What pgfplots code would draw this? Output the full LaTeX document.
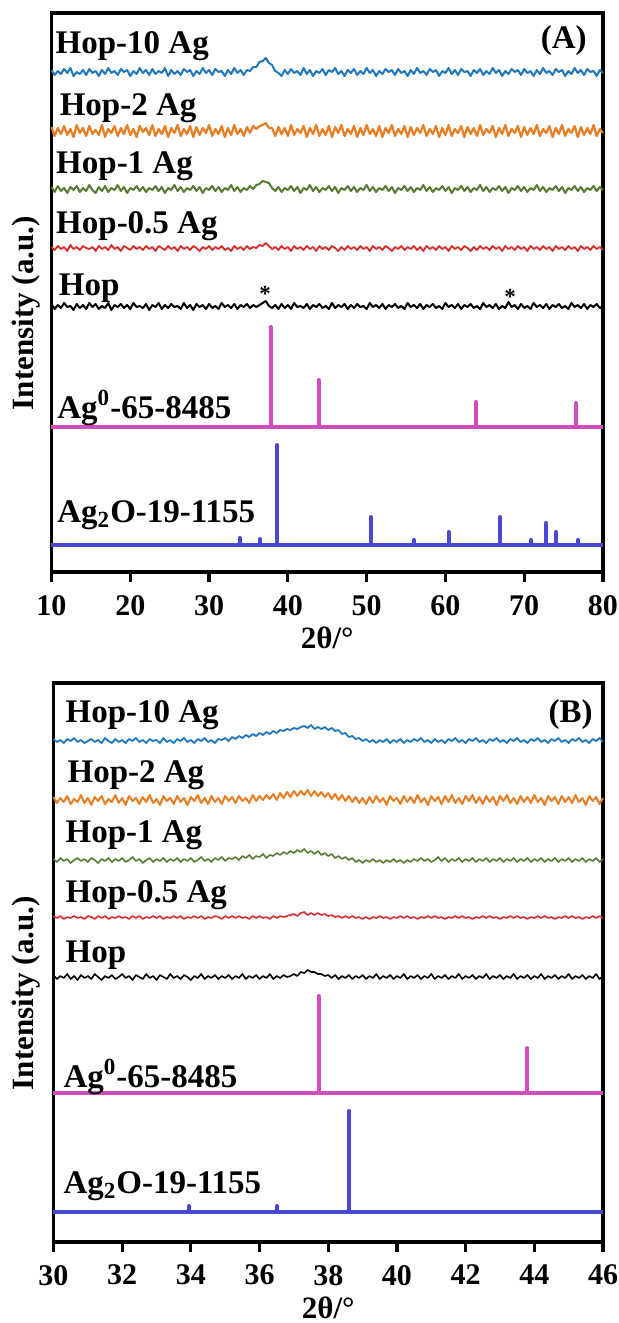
\documentclass[border=0pt]{standalone}
\usepackage{fontspec}
\setmainfont{Liberation Serif}
\usepackage{pgfplots}
\usepackage{pgfplotstable}
\pgfplotsset{compat=1.18}
\definecolor{cB}{HTML}{1F77C0}
\definecolor{cO}{HTML}{E87D23}
\definecolor{cG}{HTML}{567A32}
\definecolor{cR}{HTML}{DC2B2B}
\definecolor{cM}{HTML}{D24CBE}
\definecolor{cV}{HTML}{4848D0}
\newcommand{\lab}{\fontsize{16.5}{19}\selectfont\bfseries}
\newcommand{\astfont}{\fontsize{11.5}{12}\selectfont\bfseries}

\pgfplotstableread{
x h10 h2 h1 h05 hop
10.0 502 445 385 325 268
10.4 497 436 380 322 263
10.8 501 444 386 326 267
11.2 498 438 381 323 264
11.6 503 446 384 325 269
12.0 499 437 379 321 265
12.4 504 443 385 327 266
12.8 496 435 382 323 262
13.2 500 447 386 325 268
13.6 498 439 380 322 264
14.0 502 444 384 326 267
14.4 497 436 381 324 263
14.8 503 446 387 323 269
15.2 499 438 382 325 265
15.6 501 442 379 321 268
16.0 496 437 385 326 263
16.4 502 447 381 323 266
16.8 498 435 386 325 264
17.2 504 443 380 322 269
17.6 499 439 384 327 262
18.0 501 446 382 323 267
18.4 497 436 387 325 265
18.8 503 444 381 321 268
19.2 500 438 385 326 264
19.6 502 447 379 324 267
20.0 496 437 384 322 263
20.4 501 443 382 326 269
20.8 498 435 386 323 265
21.2 504 446 381 325 266
21.6 499 440 385 322 264
22.0 502 444 380 326 268
22.4 497 437 384 323 262
22.8 503 447 382 325 267
23.2 498 436 386 321 265
23.6 501 443 381 326 269
24.0 499 438 385 324 263
24.4 504 446 379 322 267
24.8 496 435 384 326 264
25.2 502 444 382 323 268
25.6 498 439 387 325 265
26.0 501 447 381 321 266
26.4 497 436 385 326 263
26.8 503 443 380 323 269
27.2 500 438 384 325 264
27.6 502 446 382 322 267
28.0 496 435 386 326 262
28.4 501 445 381 324 268
28.8 498 437 385 321 265
29.2 504 444 379 325 267
29.6 499 439 384 323 263
30.0 502 447 382 326 268
30.4 497 436 386 322 264
30.8 503 443 381 325 266
31.2 500 438 385 323 263
31.6 501 446 380 326 269
32.0 496 435 384 322 265
32.4 502 444 382 324 267
32.8 498 437 387 321 264
33.2 504 447 381 326 268
33.6 499 438 385 323 263
34.0 502 443 380 325 267
34.4 497 436 384 322 265
34.8 502 445 382 326 268
35.2 501 439 386 323 264
35.6 505 446 383 325 267
36.0 505 443 387 324 265
36.4 510 446 388 327 267
36.8 511 447 391 326 269
37.2 514 449 390 329 271
37.6 509 444 389 326 266
38.0 507 444 384 323 264
38.4 501 436 381 325 267
38.8 499 445 385 322 263
39.2 496 438 380 326 268
39.6 502 444 384 323 264
40.0 498 436 382 325 267
40.4 503 447 386 321 263
40.8 499 437 381 326 269
41.2 501 443 385 323 265
41.6 497 439 379 325 266
42.0 504 446 384 322 264
42.4 498 435 382 326 268
42.8 502 444 387 323 263
43.2 496 438 381 325 267
43.6 501 447 385 321 265
44.0 499 436 380 326 268
44.4 503 443 384 323 264
44.8 497 437 382 325 266
45.2 502 446 386 322 263
45.6 500 435 381 326 269
46.0 504 445 385 324 264
46.4 498 439 379 321 267
46.8 501 447 384 325 265
47.2 496 436 382 322 268
47.6 502 443 386 326 263
48.0 499 438 381 323 267
48.4 503 446 385 325 264
48.8 497 435 380 322 268
49.2 501 444 384 326 265
49.6 498 437 382 323 266
50.0 504 447 387 325 263
50.4 499 438 381 321 269
50.8 502 443 385 326 265
51.2 496 436 380 323 267
51.6 501 446 384 325 264
52.0 498 435 382 322 268
52.4 503 444 386 326 263
52.8 500 439 381 324 267
53.2 502 447 385 321 265
53.6 497 436 379 325 268
54.0 503 443 384 323 264
54.4 499 438 382 326 266
54.8 501 446 386 322 263
55.2 496 435 381 325 269
55.6 502 445 385 323 265
56.0 498 437 380 326 267
56.4 504 444 384 322 264
56.8 499 439 382 325 268
57.2 501 447 387 321 263
57.6 497 436 381 326 267
58.0 503 443 385 323 265
58.4 500 438 380 325 268
58.8 502 446 384 322 264
59.2 496 435 382 326 266
59.6 501 444 386 323 263
60.0 499 437 381 325 269
60.4 504 447 385 321 265
60.8 498 436 379 326 267
61.2 502 443 384 323 264
61.6 497 439 382 325 268
62.0 503 446 386 322 263
62.4 500 435 381 326 267
62.8 501 445 385 324 265
63.2 496 438 380 321 268
63.6 502 444 384 325 264
64.0 499 436 382 322 266
64.4 503 447 387 326 263
64.8 497 437 381 323 269
65.2 501 443 385 325 265
65.6 498 439 380 322 267
66.0 504 446 384 326 264
66.4 499 435 382 323 268
66.8 502 444 386 325 263
67.2 496 438 381 321 266
67.6 501 447 385 326 264
68.0 498 436 379 323 270
68.4 503 443 384 325 265
68.8 500 439 382 322 267
69.2 502 446 386 326 263
69.6 497 435 381 323 268
70.0 503 445 385 325 264
70.4 499 437 380 321 266
70.8 501 444 384 326 263
71.2 496 438 382 323 269
71.6 502 447 387 325 265
72.0 498 436 381 322 267
72.4 504 443 385 326 264
72.8 499 439 380 323 268
73.2 501 446 384 325 263
73.6 497 435 382 321 267
74.0 503 444 386 326 265
74.4 500 438 381 323 268
74.8 502 447 385 325 264
75.2 496 436 379 322 266
75.6 501 443 384 326 263
76.0 498 439 382 323 269
76.4 504 446 386 325 265
76.8 499 435 381 321 267
77.2 502 445 385 326 264
77.6 497 437 380 323 268
78.0 503 444 384 325 263
78.4 500 438 382 322 267
78.8 501 447 386 326 265
79.2 496 436 381 323 268
79.6 502 443 385 325 264
80.0 499 439 382 322 266
}\dataA

\pgfplotstableread{
x h10 h2 h1 h05 hop
30.0 503 445 383 326 267
30.1 500 439 380 324 263
30.2 502 444 384 326 266
30.3 499 440 381 323 264
30.4 503 446 383 325 268
30.5 501 438 379 324 263
30.6 504 443 382 326 266
30.7 500 440 384 324 262
30.8 502 447 381 325 267
30.9 499 439 383 323 264
31.0 501 444 380 326 266
31.1 503 437 384 325 263
31.2 500 445 382 323 268
31.3 502 441 379 326 265
31.4 499 446 383 324 262
31.5 504 438 381 326 266
31.6 501 443 384 323 264
31.7 499 440 380 325 267
31.8 503 447 383 324 263
31.9 500 439 381 326 265
32.0 502 444 384 324 268
32.1 499 437 380 325 264
32.2 503 446 382 323 266
32.3 501 441 385 326 262
32.4 504 444 381 324 267
32.5 500 438 383 326 265
32.6 502 445 379 323 263
32.7 499 440 382 325 268
32.8 503 447 384 324 264
32.9 501 439 380 326 266
33.0 502 443 383 324 262
33.1 499 437 381 326 267
33.2 504 446 384 323 265
33.3 500 441 380 325 263
33.4 502 444 383 324 268
33.5 499 438 381 326 264
33.6 503 446 384 324 266
33.7 501 440 380 326 263
33.8 504 444 383 323 267
33.9 500 437 381 325 265
34.0 502 445 384 324 262
34.1 499 441 380 326 266
34.2 503 447 382 324 264
34.3 501 439 385 326 268
34.4 504 444 381 323 263
34.5 500 438 383 325 266
34.6 502 446 380 324 264
34.7 499 440 384 326 267
34.8 503 444 382 325 263
34.9 502 438 385 323 266
35.0 504 446 381 326 264
35.1 501 441 384 324 267
35.2 505 445 383 326 263
35.3 503 439 385 324 266
35.4 506 446 382 326 264
35.5 504 441 386 324 268
35.6 507 444 384 325 263
35.7 505 439 387 323 266
35.8 508 447 383 326 264
35.9 506 441 386 324 267
36.0 509 446 385 326 263
36.1 507 442 388 324 266
36.2 510 447 384 325 264
36.3 508 443 387 323 268
36.4 511 448 386 326 263
36.5 509 442 389 324 266
36.6 512 449 387 326 264
36.7 511 444 390 325 267
36.8 513 450 388 326 265
36.9 512 445 391 327 266
37.0 514 451 389 328 268
37.1 513 446 392 326 266
37.2 515 451 390 329 270
37.3 516 447 393 330 269
37.4 514 452 389 327 272
37.5 517 446 391 329 270
37.6 513 451 388 327 270
37.7 515 446 391 329 268
37.8 513 450 387 327 268
37.9 515 445 389 328 266
38.0 512 449 386 326 267
38.1 514 443 388 327 264
38.2 511 448 384 325 267
38.3 512 442 386 326 263
38.4 508 447 383 324 266
38.5 509 441 385 326 264
38.6 505 446 382 324 267
38.7 506 440 384 326 263
38.8 503 445 380 324 266
38.9 504 439 382 325 264
39.0 501 444 379 323 267
39.1 503 438 382 325 263
39.2 500 445 380 323 266
39.3 502 439 383 325 264
39.4 499 446 380 324 268
39.5 502 440 382 326 263
39.6 500 444 379 324 266
39.7 503 437 382 325 264
39.8 499 446 380 323 267
39.9 502 441 383 325 263
40.0 500 444 380 324 266
40.1 503 438 382 326 264
40.2 499 446 379 324 268
40.3 502 440 382 326 263
40.4 500 445 380 324 266
40.5 503 439 383 325 264
40.6 501 447 381 323 267
40.7 504 440 384 325 263
40.8 500 444 381 324 266
40.9 502 437 383 326 264
41.0 499 446 380 324 268
41.1 503 441 382 326 263
41.2 500 445 385 324 266
41.3 502 438 381 325 264
41.4 499 446 384 323 267
41.5 503 440 380 325 263
41.6 501 447 383 324 266
41.7 504 439 381 326 264
41.8 500 444 384 324 268
41.9 502 438 380 326 263
42.0 499 446 383 324 266
42.1 503 441 381 325 264
42.2 501 447 384 323 267
42.3 504 439 380 325 263
42.4 500 445 383 324 266
42.5 502 438 381 326 264
42.6 499 446 384 324 268
42.7 503 440 380 326 263
42.8 501 445 383 324 266
42.9 504 437 381 325 264
43.0 500 446 384 323 267
43.1 502 441 380 325 263
43.2 499 447 383 324 266
43.3 503 439 381 326 264
43.4 501 444 384 324 268
43.5 504 438 380 326 263
43.6 500 446 383 324 266
43.7 502 440 381 325 264
43.8 499 445 384 323 267
43.9 503 439 380 325 263
44.0 501 447 383 324 266
44.1 504 440 381 326 264
44.2 500 444 384 324 268
44.3 502 437 380 326 263
44.4 499 446 383 324 266
44.5 503 441 381 325 264
44.6 501 445 384 323 267
44.7 504 438 380 325 263
44.8 500 446 383 324 266
44.9 502 440 381 326 264
45.0 499 445 384 324 268
45.1 503 439 380 326 263
45.2 501 447 383 324 266
45.3 504 440 381 325 264
45.4 500 444 384 323 267
45.5 502 437 380 325 263
45.6 499 446 383 324 266
45.7 503 441 381 326 264
45.8 501 445 384 324 268
45.9 504 438 380 326 263
46.0 500 444 383 324 266
}\dataB

\pgfplotsset{xrd/.style={
  scale only axis, clip=false,
  ymin=0, ymax=559, ytick=\empty,
  axis line style={line width=1.6pt},
  xtick pos=left, xtick align=outside,
  major tick length=5pt,
  tick style={black, line width=1.6pt},
  ticklabel style={font=\fontsize{15}{17}\selectfont\bfseries},
  xticklabel style={yshift=-3pt},
  /pgf/number format/assume math mode=true,
  xlabel={2θ/°}, ylabel={Intensity (a.u.)},
  label style={font=\fontsize{15.5}{18}\selectfont\bfseries},
  xlabel style={at={(axis description cs:0.5,-0.117)}, anchor=center},
  every axis plot/.append style={line join=round},
}}

\begin{document}
\begin{tikzpicture}
\useasboundingbox (0,0) rectangle (309.5pt,-661.5pt);
% ---------- Panel A ----------
\begin{axis}[xrd,
  at={(25.75pt,-286pt)}, anchor=south west,
  width=275.75pt, height=279.5pt,
  xmin=10, xmax=80, xtick={10,20,...,80},
  ylabel style={at={(axis description cs:-0.046,0.463)}, anchor=center},
]
\addplot[cB, line width=1.0pt] table[x=x,y=h10]{\dataA};
\addplot[cO, line width=1.1pt] table[x=x,y=h2]{\dataA};
\addplot[cG, line width=1.0pt] table[x=x,y=h1]{\dataA};
\addplot[cR, line width=0.9pt] table[x=x,y=h05]{\dataA};
\addplot[black, line width=1.0pt] table[x=x,y=hop]{\dataA};
\addplot[cM, line width=2pt] coordinates {(10,145) (37.8,145) (37.8,245) (37.8,145) (43.9,145) (43.9,192) (43.9,145) (63.9,145) (63.9,170) (63.9,145) (76.6,145) (76.6,169) (76.6,145) (80,145)};
\addplot[cV, line width=2pt] coordinates {(10,27) (33.9,27) (33.9,34) (33.9,27) (36.5,27) (36.5,33) (36.5,27) (38.6,27) (38.6,127) (38.6,27) (50.5,27) (50.5,55) (50.5,27) (56.0,27) (56.0,32) (56.0,27) (60.4,27) (60.4,40) (60.4,27) (66.9,27) (66.9,55) (66.9,27) (70.9,27) (70.9,32) (70.9,27) (72.8,27) (72.8,49) (72.8,27) (74.0,27) (74.0,40) (74.0,27) (76.8,27) (76.8,32) (76.8,27) (80,27)};
\node[anchor=base west, inner sep=0, font=\lab] at (axis cs:10.48,519) {Hop-10 Ag};
\node[anchor=base west, inner sep=0, font=\lab] at (axis cs:11.0,457) {Hop-2 Ag};
\node[anchor=base west, inner sep=0, font=\lab] at (axis cs:10.55,399) {Hop-1 Ag};
\node[anchor=base west, inner sep=0, font=\lab] at (axis cs:10.55,339) {Hop-0.5 Ag};
\node[anchor=base west, inner sep=0, font=\lab] at (axis cs:10.9,277) {Hop};
\node[anchor=base west, inner sep=0, font=\lab] at (axis cs:10.7,154) {Ag\textsuperscript{0}-65-8485};
\node[anchor=base west, inner sep=0, font=\lab] at (axis cs:10.7,50) {Ag\textsubscript{2}O-19-1155};
\node[anchor=base east, inner sep=0, font=\lab] at (axis cs:77.97,524) {(A)};
\node[anchor=base, inner sep=0, font=\astfont] at (axis cs:37.1,271) {*};
\node[anchor=base, inner sep=0, font=\astfont] at (axis cs:68.2,268) {*};
\end{axis}
% ---------- Panel B ----------
\begin{axis}[xrd,
  at={(26.75pt,-621pt)}, anchor=south west,
  width=274.75pt, height=279.5pt,
  xmin=30, xmax=46, xtick={30,32,...,46},
  ylabel style={at={(axis description cs:-0.05,0.445)}, anchor=center},
]
\addplot[cB, line width=0.9pt] table[x=x,y=h10]{\dataB};
\addplot[cO, line width=1.0pt] table[x=x,y=h2]{\dataB};
\addplot[cG, line width=0.8pt] table[x=x,y=h1]{\dataB};
\addplot[cR, line width=0.8pt] table[x=x,y=h05]{\dataB};
\addplot[black, line width=0.8pt] table[x=x,y=hop]{\dataB};
\addplot[cM, line width=2pt] coordinates {(30,149) (37.72,149) (37.72,246) (37.72,149) (43.8,149) (43.8,194) (43.8,149) (46,149)};
\addplot[cV, line width=2pt] coordinates {(30,30) (33.94,30) (33.94,36) (33.94,30) (36.5,30) (36.5,36) (36.5,30) (38.6,30) (38.6,131) (38.6,30) (46,30)};
\node[anchor=base west, inner sep=0, font=\lab] at (axis cs:30.34,520) {Hop-10 Ag};
\node[anchor=base west, inner sep=0, font=\lab] at (axis cs:30.4,460) {Hop-2 Ag};
\node[anchor=base west, inner sep=0, font=\lab] at (axis cs:30.34,400) {Hop-1 Ag};
\node[anchor=base west, inner sep=0, font=\lab] at (axis cs:30.34,340) {Hop-0.5 Ag};
\node[anchor=base west, inner sep=0, font=\lab] at (axis cs:30.34,280) {Hop};
\node[anchor=base west, inner sep=0, font=\lab] at (axis cs:30.28,155) {Ag\textsuperscript{0}-65-8485};
\node[anchor=base west, inner sep=0, font=\lab] at (axis cs:30.28,49) {Ag\textsubscript{2}O-19-1155};
\node[anchor=base east, inner sep=0, font=\lab] at (axis cs:45.71,520) {(B)};
\end{axis}
\end{tikzpicture}
\end{document}
